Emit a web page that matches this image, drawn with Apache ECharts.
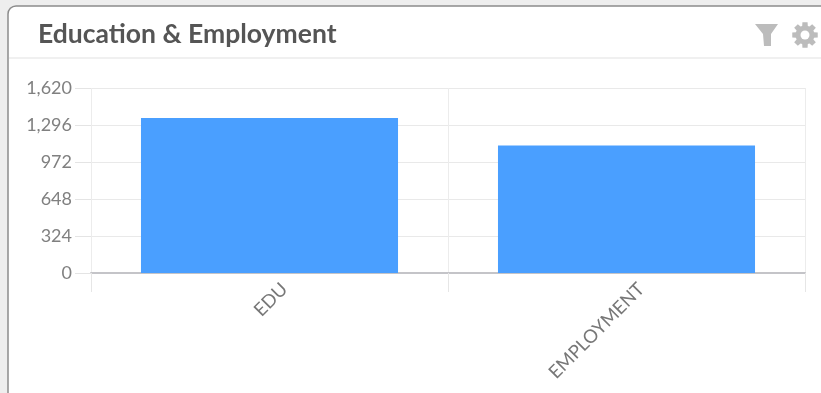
<!DOCTYPE html>
<html><head><meta charset="utf-8">
<style>html,body{margin:0;padding:0;background:#fff}#c{width:821px;height:393px}</style>
<script src="https://cdn.jsdelivr.net/npm/echarts@6/dist/echarts.min.js"></script>
</head><body><div id="c"></div>
<script>
const titleText = 'Education & Employment';
const categories = ['EDU', 'EMPLOYMENT'];
const values = [1357, 1116];
const yMax = 1620;
const yStep = 324;
const chart = echarts.init(document.getElementById('c'), null, {renderer:'canvas'});
// settings icon outline (decoration, not data)
const gearPts = [];
for (let i = 0; i < 8; i++) {
  const a = i * Math.PI / 4 - Math.PI / 2;
  [[-0.3,9.5],[-0.2,13],[0.2,13],[0.3,9.5]].forEach(([d,r]) => {
    gearPts.push([805 + r * Math.cos(a + d), 35 + r * Math.sin(a + d)]);
  });
}
chart.setOption({
  animation:false,
  backgroundColor:'#ffffff',
  title:{text:titleText,left:33,top:16,textStyle:{fontFamily:'Lato',fontWeight:'bold',fontSize:26.5,color:'#555555'}},
  grid:{left:91,right:16,top:88,bottom:120,containLabel:false},
  xAxis:{type:'category',data:categories,
    axisLine:{lineStyle:{color:'#c4c4c8',width:2}},
    axisTick:{show:true,length:19,alignWithLabel:false,lineStyle:{color:'#e6e6e6'}},
    splitLine:{show:true,lineStyle:{color:'#ececec'}},
    axisLabel:{rotate:45,color:'#777777',fontFamily:'Lato',fontSize:18.5,margin:28,padding:[0,-21,0,0]}},
  yAxis:{type:'value',min:0,max:yMax,interval:yStep,
    axisLine:{show:false},
    axisTick:{show:true,length:16,lineStyle:{color:'#e4e4e4'}},
    splitLine:{lineStyle:{color:'#e9e9e9'}},
    axisLabel:{color:'#808080',fontFamily:'Lato',fontSize:18,margin:19}},
  series:[{type:'bar',data:values,barCategoryGap:'28%',itemStyle:{color:'#4a9fff'}}],
  graphic:[
    {type:'rect',z:-10,silent:true,shape:{x:-20,y:-20,width:880,height:460},style:{fill:'#eeeeee'}},
    {type:'rect',z:-9,silent:true,shape:{x:8,y:6,width:840,height:430,r:8},style:{fill:'#ffffff',stroke:'#8c8c8c',lineWidth:1.5}},
    {type:'line',z:-8,silent:true,shape:{x1:9,y1:58,x2:821,y2:58},style:{stroke:'#ebebeb',lineWidth:1.5}},
    {type:'polygon',silent:true,shape:{points:[[755,24],[778,24],[771,34],[771,46],[764,46],[763,34]]},style:{fill:'#bcbcbc'}},
    {type:'polygon',silent:true,shape:{points:gearPts},style:{fill:'#bcbcbc'}},
    {type:'circle',silent:true,z:10,shape:{cx:805,cy:35,r:4.5},style:{fill:'#ffffff'}}
  ]
});
</script></body></html>
